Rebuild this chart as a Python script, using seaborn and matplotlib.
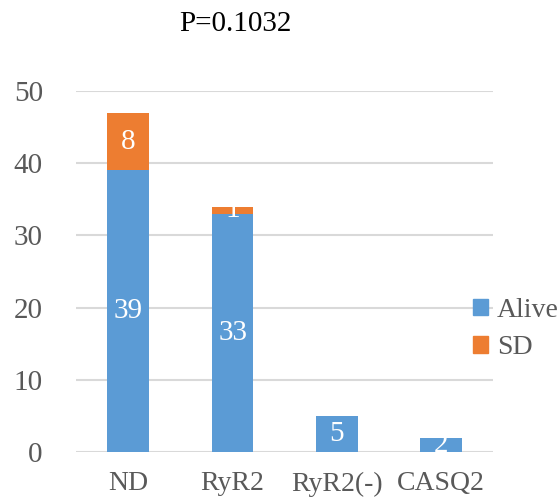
import matplotlib
matplotlib.use("Agg")
import matplotlib.pyplot as plt
import matplotlib.patches as mpatches
import seaborn as sns
import pandas as pd

# data
groups = ["ND", "RyR2", "RyR2(-)", "CASQ2"]
alive = [39, 33, 5, 2]
sd = [8, 1, 0, 0]
title_text = "P=0.1032"

BLUE = "#5B9BD5"
ORANGE = "#ED7D31"
GREY = "#595959"

sns.set_theme(style="white")
plt.rcParams["font.family"] = ["Liberation Serif", "DejaVu Serif"]

df = pd.DataFrame({"group": groups, "Alive": alive, "SD": sd})
df["total"] = df["Alive"] + df["SD"]

fig = plt.figure(figsize=(5.6, 5.0), dpi=100)
ax = fig.add_axes([0.136, 0.096, 0.745, 0.722])

# stacked bars: total in orange underneath, alive in blue on top
sns.barplot(data=df, x="group", y="total", color=ORANGE, width=0.4,
            saturation=1, linewidth=0, ax=ax, zorder=2)
sns.barplot(data=df, x="group", y="Alive", color=BLUE, width=0.4,
            saturation=1, linewidth=0, ax=ax, zorder=3)

ax.set_ylim(0, 50)
ax.set_xlim(-0.5, len(groups) - 0.5)
ax.set_yticks(range(0, 51, 10))
ax.yaxis.grid(True, color="#D9D9D9", linewidth=1.5, zorder=0)
ax.set_axisbelow(True)
for s in ax.spines.values():
    s.set_visible(False)
ax.set_xlabel("")
ax.set_ylabel("")
ax.tick_params(axis="both", length=0, labelsize=21, colors=GREY)
ax.tick_params(axis="x", labelsize=20, pad=14)
ax.tick_params(axis="y", pad=24)

# value labels centred in each segment
for i, (a, s) in enumerate(zip(alive, sd)):
    if a > 0:
        ax.text(i, a / 2, str(a), ha="center", va="center",
                color="white", fontsize=21, zorder=4)
    if s > 0:
        ax.text(i, a + s / 2, str(s), ha="center", va="center",
                color="white", fontsize=21, zorder=4)

fig.text(0.42, 0.952, title_text, ha="center", va="center",
         fontsize=21, color="black")

handles = [mpatches.Patch(color=BLUE, label="Alive"),
           mpatches.Patch(color=ORANGE, label="SD")]
leg = fig.legend(handles=handles, loc="center left",
                 bbox_to_anchor=(0.845, 0.342), frameon=False,
                 fontsize=20, handlelength=0.55, handleheight=0.55,
                 handletextpad=0.3, labelspacing=0.45, borderaxespad=0,
                 borderpad=0)
for t in leg.get_texts():
    t.set_color(GREY)

fig.savefig("out.png", dpi=100)
